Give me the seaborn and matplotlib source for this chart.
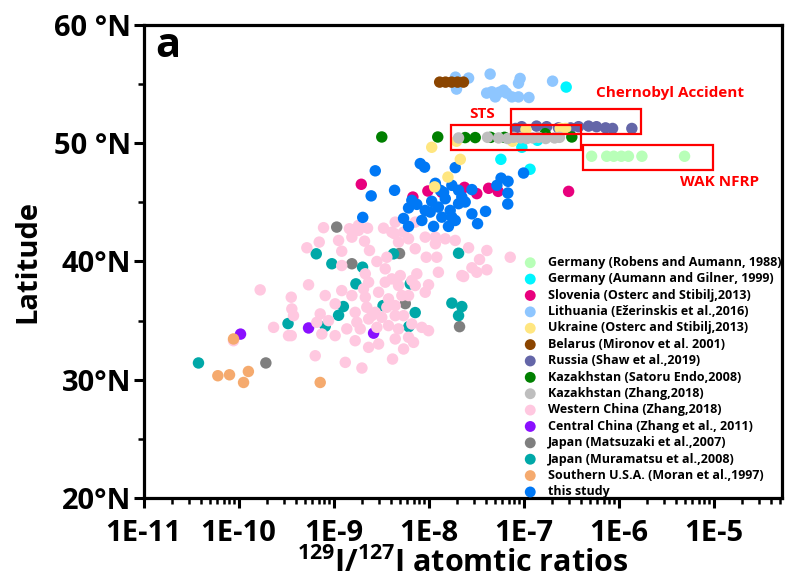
import numpy as np
import pandas as pd
import matplotlib
matplotlib.use("Agg")
import matplotlib.pyplot as plt
from matplotlib.patches import Rectangle
from matplotlib.ticker import FixedLocator, NullFormatter
import seaborn as sns

# ---------------- data: 129I/127I atomic ratio and latitude (deg N) ----------------
germany_robens_ratio = [5.2e-7, 7.5e-7, 8.9e-7, 1.07e-6, 1.27e-6, 1.76e-6, 4.95e-6]
germany_robens_lat = [48.9, 48.9, 48.9, 48.9, 48.9, 48.9, 48.9]

germany_aumann_ratio = [2.81e-7, 9.6e-8, 5.77e-8, 1.17e-7, 1.40e-7]
germany_aumann_lat = [54.75, 49.66, 48.64, 47.8, 50.25]

slovenia_ratio = [1.96e-9, 6.84e-9, 9.84e-9, 1.38e-8, 2.39e-8, 3.22e-8, 4.29e-8, 5.4e-8, 2.98e-7]
slovenia_lat = [46.53, 45.45, 45.96, 45.85, 46.27, 45.74, 46.19, 45.93, 45.93]

lithuania_ratio = [1.92e-8, 1.97e-8, 2.64e-8, 4.45e-8, 4.63e-8, 5.04e-8, 5.58e-8, 6.62e-8,
                   7.54e-8, 8.85e-8, 9.2e-8, 8.85e-8, 1.14e-7, 2.02e-7, 4.09e-8, 6.15e-8]
lithuania_lat = [55.59, 54.58, 55.51, 55.85, 54.35, 53.92, 54.32, 54.24,
                 53.92, 53.92, 55.48, 55.08, 53.87, 55.25, 54.24, 54.49]

ukraine_ratio = [1.08e-8, 2.16e-8, 1.6e-8, 1.16e-8, 1.97e-8, 1.06e-7, 2.43e-7, 2.77e-7, 7.65e-8]
ukraine_lat = [49.66, 48.64, 47.14, 46.31, 50.17, 51.16, 51.25, 51.25, 50.17]

belarus_ratio = [1.31e-8, 1.51e-8, 1.75e-8, 2.02e-8, 2.33e-8]
belarus_lat = [55.17, 55.17, 55.17, 55.17, 55.17]

russia_ratio = [8.24e-8, 9.55e-8, 1.37e-7, 1.75e-7, 2.33e-7, 3.13e-7, 3.79e-7, 4.83e-7,
                5.86e-7, 7.3e-7, 8.65e-7, 1.38e-6]
russia_lat = [51.25, 51.4, 51.45, 51.4, 51.3, 51.3, 51.4, 51.45, 51.4, 51.3, 51.25, 51.25]

kaz_endo_ratio = [3.22e-9, 1.25e-8, 2.43e-8, 3.1e-8, 4.5e-8, 6.3e-8, 1.69e-7, 3.22e-7]
kaz_endo_lat = [50.53, 50.53, 50.48, 50.48, 50.5, 50.5, 50.81, 50.53]

kaz_zhang_ratio = [2.07e-8, 4.18e-8, 5.46e-8, 6.79e-8, 7.85e-8, 9.29e-8, 1.08e-7, 1.25e-7,
                   1.44e-7, 1.71e-7, 2.12e-7, 2.39e-7]
kaz_zhang_lat = [50.45, 50.5, 50.45, 50.4, 50.5, 50.45, 50.4, 50.45, 50.5, 50.4, 50.45, 50.5]

west_china_ratio = [
    7.85e-10, 1.47e-9, 1.83e-9, 2.28e-9, 3.36e-9, 1.56e-9, 1.13e-9, 7.07e-10, 5.24e-10, 1.22e-9,
    2.12e-9, 2.39e-9, 4.39e-9, 4.83e-9, 5.46e-9, 6.16e-9, 7.24e-9, 9.23e-9, 1.18e-8, 1.5e-8,
    1.91e-8, 9.46e-9, 1.22e-8, 2.64e-8, 4.11e-8, 3.44e-8, 7.24e-8, 2.86e-9, 3.64e-9, 1.22e-9,
    3.5e-9, 1.27e-8, 2.34e-8, 3.22e-8, 4.11e-8, 5.04e-9, 7.53e-9, 5.46e-10, 2.34e-9, 3.5e-9,
    4.83e-9, 7.24e-9, 1.0e-8, 9.23e-9, 1.22e-9, 8.18e-10, 1.56e-9, 2.16e-9, 2.98e-9, 3.79e-9,
    5.24e-9, 3.59e-10, 1.04e-9, 3.64e-9, 4.46e-9, 3.64e-10, 3.79e-10, 7.24e-10, 8.86e-10, 6.67e-10,
    1.76e-9, 2.34e-9, 3.22e-9, 4.46e-9, 5.46e-9, 1.38e-9, 1.91e-9, 2.86e-9, 3.79e-9, 4.83e-9,
    6.67e-9, 8.5e-9, 1.0e-8, 7.53e-10, 1.04e-9, 1.69e-9, 2.34e-9, 2.98e-9, 4.46e-9, 6.16e-9,
    6.95e-9, 5.46e-9, 3.59e-10, 6.42e-10, 1.33e-9, 1.99e-9, 4.18e-9, 2.16e-9, 1.69e-10, 2.34e-10,
    3.36e-10, 8.86e-11, 1.83e-9, 7.24e-9, 4.46e-9, 4.11e-9, 1.18e-8, 2.86e-8, 2.24e-8, 4.11e-9,
    6.67e-9, 2.53e-9, 1.69e-9, 2.24e-9, 2.75e-9, 2.07e-9, 6.16e-9]
west_china_lat = [
    42.86, 42.77, 42.63, 42.82, 42.82, 42.06, 41.78, 41.64, 41.16, 40.87,
    41.72, 40.93, 42.35, 41.64, 42.48, 41.92, 41.08, 42.06, 41.5, 41.92,
    41.78, 40.36, 40.36, 41.16, 40.93, 40.17, 40.36, 40.0, 40.36, 39.66,
    39.38, 39.09, 38.73, 39.09, 39.3, 38.81, 38.96, 38.03, 38.25, 38.25,
    37.97, 37.97, 38.03, 37.4, 37.54, 37.12, 37.12, 36.98, 37.4, 36.84,
    37.12, 36.98, 36.42, 36.13, 36.27, 35.99, 35.42, 35.57, 35.0, 34.86,
    34.86, 35.14, 35.28, 35.42, 35.42, 34.3, 34.3, 34.43, 34.58, 34.3,
    34.72, 34.43, 34.15, 33.87, 33.73, 33.3, 32.74, 33.02, 33.45, 33.59,
    33.16, 32.6, 33.73, 32.03, 31.47, 30.99, 31.75, 38.96, 37.6, 34.43,
    33.73, 33.3, 43.05, 43.33, 43.33, 42.48, 42.06, 39.47, 38.81, 38.53,
    38.39, 35.42, 35.7, 36.13, 35.7, 37.69, 37.12]

central_china_ratio = [1.05e-10, 5.46e-10, 2.64e-9]
central_china_lat = [33.86, 34.38, 33.94]

japan_matsuzaki_ratio = [1.08e-9, 1.56e-9, 4.95e-9, 5.69e-9, 2.12e-8, 1.94e-10]
japan_matsuzaki_lat = [42.91, 39.81, 40.68, 36.44, 34.49, 31.42]

japan_muramatsu_ratio = [6.58e-10, 9.6e-10, 2.02e-9, 1.72e-9, 1.27e-9, 1.13e-9, 3.32e-10, 3.79e-11,
                         4.28e-9, 6.42e-9, 7.24e-9, 6.2e-9, 3.32e-9, 2.07e-8, 1.76e-8, 2.24e-8,
                         2.07e-8, 8.18e-10]
japan_muramatsu_lat = [40.65, 39.81, 39.52, 38.11, 36.19, 35.45, 34.75, 31.42,
                       40.65, 38.11, 35.68, 34.49, 36.27, 40.7, 36.48, 36.19,
                       35.42, 34.53]

south_usa_ratio = [8.86e-11, 6.06e-11, 8.04e-11, 1.27e-10, 1.13e-10, 7.24e-10]
south_usa_lat = [33.45, 30.34, 30.42, 30.7, 29.77, 29.77]

this_study_ratio = [2.75e-9, 8.18e-9, 9.08e-9, 1.91e-8, 2.49e-9, 4.39e-9, 1.18e-8, 1.76e-8,
                    2.07e-8, 2.86e-8, 5.24e-8, 5.8e-8, 6.87e-8, 6.84e-8, 6.82e-8, 1.0e-7,
                    2.03e-9, 6.16e-9, 7.53e-9, 5.46e-9, 6.16e-9, 8.5e-9, 1.04e-8, 1.08e-8,
                    1.27e-8, 1.38e-8, 1.13e-8, 1.62e-8, 1.91e-8, 1.69e-8, 2.07e-8, 2.24e-8,
                    2.43e-8, 1.5e-8, 2.86e-8, 3.28e-8, 3.98e-8, 1.33e-8, 9.23e-9, 1.76e-8,
                    6.67e-9, 1.44e-8]
this_study_lat = [47.67, 48.28, 47.98, 47.94, 45.55, 46.02, 46.61, 46.44,
                  46.02, 46.08, 46.44, 47.05, 46.78, 45.79, 44.86, 47.48,
                  43.73, 44.53, 44.83, 43.64, 42.97, 43.47, 44.18, 45.09,
                  44.6, 43.75, 42.97, 42.97, 43.47, 44.32, 44.89, 45.45,
                  45.03, 45.31, 44.03, 43.2, 44.24, 46.02, 44.32, 43.75,
                  45.17, 45.85]

# legend label, colour, ratios, latitudes, drawing layer
series = [
    ("Germany (Robens and Aumann, 1988)", "#B8FFB8", germany_robens_ratio, germany_robens_lat, 4),
    ("Germany (Aumann and Gilner, 1999)", "#00F5FF", germany_aumann_ratio, germany_aumann_lat, 4),
    ("Slovenia (Osterc and Stibilj,2013)", "#E8007D", slovenia_ratio, slovenia_lat, 2),
    ("Lithuania (Ežerinskis et al.,2016)", "#8EC6FF", lithuania_ratio, lithuania_lat, 4),
    ("Ukraine (Osterc and Stibilj,2013)", "#FFE680", ukraine_ratio, ukraine_lat, 5),
    ("Belarus (Mironov et al. 2001)", "#8B4500", belarus_ratio, belarus_lat, 4),
    ("Russia (Shaw et al.,2019)", "#6466A8", russia_ratio, russia_lat, 4),
    ("Kazakhstan (Satoru Endo,2008)", "#008000", kaz_endo_ratio, kaz_endo_lat, 5),
    ("Kazakhstan (Zhang,2018)", "#BEBEBE", kaz_zhang_ratio, kaz_zhang_lat, 6),
    ("Western China (Zhang,2018)", "#FFC8E0", west_china_ratio, west_china_lat, 3),
    ("Central China (Zhang et al., 2011)", "#8A10FF", central_china_ratio, central_china_lat, 2),
    ("Japan (Matsuzaki et al.,2007)", "#7F7F7F", japan_matsuzaki_ratio, japan_matsuzaki_lat, 2),
    ("Japan (Muramatsu et al.,2008)", "#00A8A8", japan_muramatsu_ratio, japan_muramatsu_lat, 2),
    ("Southern U.S.A. (Moran et al.,1997)", "#F5AA6E", south_usa_ratio, south_usa_lat, 4),
    ("this study", "#0078F5", this_study_ratio, this_study_lat, 4),
]

x_tick_values = [1e-11, 1e-10, 1e-9, 1e-8, 1e-7, 1e-6, 1e-5]
x_tick_labels = ["1E-11", "1E-10", "1E-9", "1E-8", "1E-7", "1E-6", "1E-5"]
y_tick_values = [20, 30, 40, 50, 60]
y_tick_labels = ["20°N", "30°N", "40°N", "50 °N", "60 °N"]

# event boxes: (label, x0, x1, y0, y1, label x, label y)
event_boxes = [
    ("STS", 1.73e-8, 4.05e-7, 49.4, 51.58, 3.7e-8, 52.46),
    ("Chernobyl Accident", 7.4e-8, 1.73e-6, 50.76, 52.88, 3.44e-6, 54.24),
    ("WAK NFRP", 4.18e-7, 9.75e-6, 47.77, 49.89, 1.16e-5, 46.69),
]

# ---------------- style ----------------
sns.set_style("ticks")
plt.rcParams["font.family"] = ["Open Sans", "DejaVu Sans"]
plt.rcParams["font.weight"] = "bold"
plt.rcParams["text.color"] = "black"
plt.rcParams["axes.labelcolor"] = "black"
plt.rcParams["xtick.color"] = "black"
plt.rcParams["ytick.color"] = "black"
plt.rcParams["mathtext.fontset"] = "custom"
plt.rcParams["mathtext.bf"] = "Open Sans:bold"
plt.rcParams["mathtext.rm"] = "Open Sans:bold"

fig = plt.figure(figsize=(7.87, 5.84), dpi=100)
ax = fig.add_axes([143.5 / 787, 1 - 498 / 584, (782 - 143.5) / 787, (498 - 25) / 584])

for label, color, xs, ys, layer in series:
    df = pd.DataFrame({"ratio": xs, "lat": ys, "source": label})
    sns.scatterplot(data=df, x="ratio", y="lat", color=color, s=68, linewidth=0,
                    edgecolor="none", alpha=1.0, ax=ax, label=label, zorder=layer)

ax.set_xscale("log")
ax.set_xlim(1e-11, 5.25e-5)
ax.set_ylim(20, 60)

ax.xaxis.set_major_locator(FixedLocator(x_tick_values))
ax.set_xticklabels(x_tick_labels)
minor_x = [m * 10.0 ** e for e in range(-11, -4) for m in range(2, 10)]
ax.xaxis.set_minor_locator(FixedLocator(minor_x))
ax.xaxis.set_minor_formatter(NullFormatter())
ax.set_yticks(y_tick_values)
ax.set_yticklabels(y_tick_labels)
ax.yaxis.set_minor_locator(FixedLocator([25, 35, 45, 55]))

ax.tick_params(axis="both", which="major", direction="out", length=7, width=2.2,
               labelsize=21, color="black", labelcolor="black")
ax.tick_params(axis="y", which="major", pad=2)
ax.tick_params(axis="x", which="major", pad=8)
ax.tick_params(axis="both", which="minor", direction="out", length=4, width=1.8,
               color="black")
for lab in ax.get_xticklabels() + ax.get_yticklabels():
    lab.set_fontweight("bold")

for sp in ax.spines.values():
    sp.set_visible(True)
    sp.set_linewidth(2.3)
    sp.set_color("black")

ax.set_xlabel(r"$^{\mathbf{129}}$I/$^{\mathbf{127}}$I atomtic ratios", fontsize=22,
              fontweight="bold", labelpad=0, color="black")
ax.set_ylabel("Latitude", fontsize=21, fontweight="bold", labelpad=8, color="black")

ax.text(0.018, 0.932, "a", transform=ax.transAxes, fontsize=30, fontweight="bold",
        ha="left", va="baseline", color="black")

for name, x0, x1, y0, y1, tx, ty in event_boxes:
    ax.add_patch(Rectangle((x0, y0), x1 - x0, y1 - y0, fill=False, edgecolor="#FF0000",
                           linewidth=1.6, zorder=7))
    ax.text(tx, ty, name, color="#FF0000", fontsize=11, fontweight="bold",
            ha="center", va="center", zorder=8)

# legend in the fixed series order
handles, labels = ax.get_legend_handles_labels()
order = [labels.index(s[0]) for s in series]
leg = ax.legend([handles[i] for i in order], [labels[i] for i in order],
                loc="upper left", bbox_to_anchor=(524 / 787, 1 - 256 / 584),
                bbox_transform=fig.transFigure, frameon=False, borderpad=0,
                borderaxespad=0, handlelength=1.0, handletextpad=0.95,
                labelspacing=0.27, prop={"size": 9, "weight": "bold"},
                markerscale=0.95)
for t in leg.get_texts():
    t.set_color("black")

fig.savefig("out.png", dpi=100)
